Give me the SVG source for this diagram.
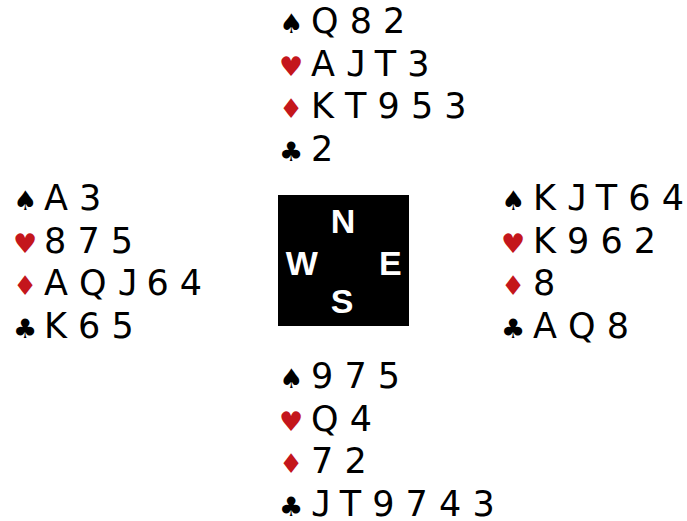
<svg xmlns="http://www.w3.org/2000/svg" width="687" height="521" viewBox="0 0 687 521">
<style>
text{font-family:"DejaVu Sans",sans-serif;font-size:35px;fill:#000}
.s{font-size:27px}
.r{fill:#c4161c}
.j{font-family:"DejaVu Sans Mono",monospace}
.c{font-family:"Liberation Sans",Arial,sans-serif;font-weight:bold;font-size:34px;fill:#fff;text-anchor:middle}
</style>
<rect width="687" height="521" fill="#fff"/>
<g id="north">
<text class="s" x="279" y="33">♠</text><text x="311" y="33">Q 8 2</text>
<text class="s r" x="279" y="75.5">♥</text><text x="311" y="75.5">A <tspan class="j">J</tspan><tspan dx="-3.5"> T 3</tspan></text>
<text class="s r" x="279" y="118">♦</text><text x="311" y="118">K T 9 5 3</text>
<text class="s" x="279" y="160.5">♣</text><text x="311" y="160.5">2</text>
</g>
<g id="west">
<text class="s" x="13" y="210">♠</text><text x="44" y="210">A 3</text>
<text class="s r" x="13" y="252.5">♥</text><text x="44" y="252.5">8 7 5</text>
<text class="s r" x="13" y="295">♦</text><text x="44" y="295">A Q <tspan class="j">J</tspan><tspan dx="-3.5"> 6 4</tspan></text>
<text class="s" x="13" y="337.5">♣</text><text x="44" y="337.5">K 6 5</text>
</g>
<g id="east">
<text class="s" x="501" y="210">♠</text><text x="533" y="210">K <tspan class="j">J</tspan><tspan dx="-3.5"> T 6 4</tspan></text>
<text class="s r" x="501" y="252.5">♥</text><text x="533" y="252.5">K 9 6 2</text>
<text class="s r" x="501" y="295">♦</text><text x="533" y="295">8</text>
<text class="s" x="501" y="337.5">♣</text><text x="533" y="337.5">A Q 8</text>
</g>
<g id="south">
<text class="s" x="279" y="388">♠</text><text x="311" y="388">9 7 5</text>
<text class="s r" x="279" y="430.5">♥</text><text x="311" y="430.5">Q 4</text>
<text class="s r" x="279" y="473">♦</text><text x="311" y="473">7 2</text>
<text class="s" x="279" y="515.5">♣</text><text x="311" y="515.5"><tspan class="j">J</tspan><tspan dx="-3.5"> T 9 7 4 3</tspan></text>
</g>
<g id="compass">
<rect x="278" y="195" width="131" height="131" fill="#000"/>
<text class="c" x="343" y="233">N</text>
<text class="c" x="301.7" y="275">W</text>
<text class="c" x="390.3" y="274.5">E</text>
<text class="c" x="342" y="313">S</text>
</g>
<g id="connectors"/>
</svg>
